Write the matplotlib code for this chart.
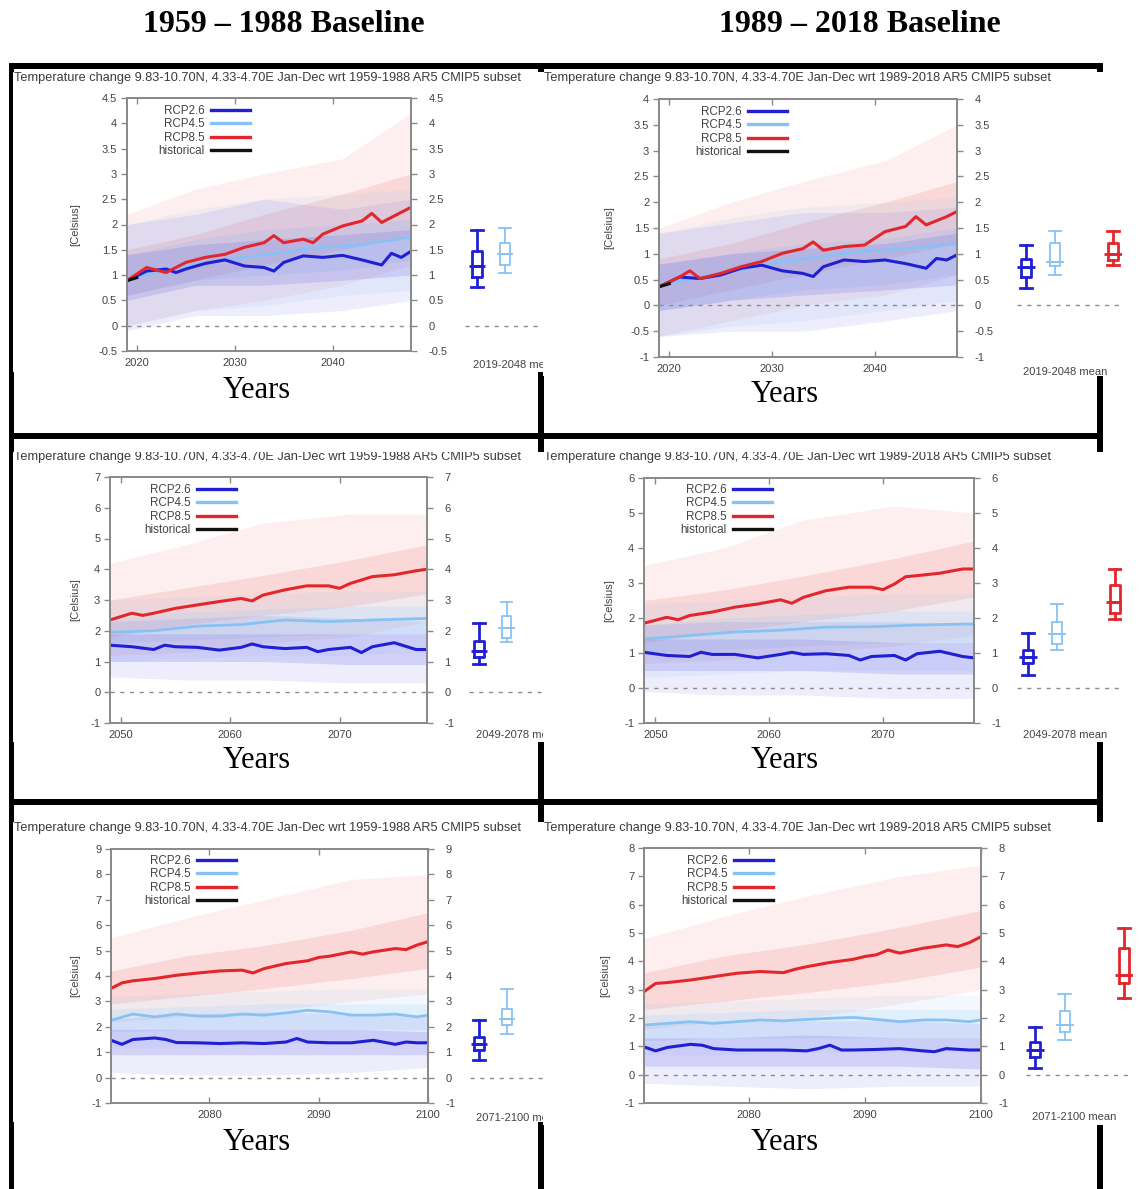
import matplotlib.pyplot as plt
from matplotlib.lines import Line2D
from matplotlib.patches import Rectangle
from matplotlib.ticker import FuncFormatter

plt.rcParams['font.family'] = ['Liberation Sans', 'DejaVu Sans']

W, H = 1139, 1189

scenarios = ['RCP2.6', 'RCP4.5', 'RCP8.5', 'historical']
col_titles = ['1959 \u2013 1988 Baseline', '1989 \u2013 2018 Baseline']
base_periods = ['1959-1988', '1989-2018']
periods = ['2019-2048', '2049-2078', '2071-2100']

# ---------------- data: ensemble means ----------------
# panel 1: 2019-2048 wrt 1959-1988
p1_red_yr = [2019, 2021, 2023, 2025, 2027, 2029, 2031, 2033, 2034, 2035, 2037, 2038, 2039, 2041, 2043, 2044, 2045, 2047, 2048]
p1_red = [0.89, 1.15, 1.05, 1.25, 1.35, 1.41, 1.55, 1.64, 1.78, 1.64, 1.71, 1.64, 1.81, 1.97, 2.07, 2.22, 2.04, 2.24, 2.34]
p1_blue_yr = [2019, 2021, 2023, 2024, 2025, 2027, 2029, 2031, 2033, 2034, 2035, 2037, 2039, 2041, 2043, 2045, 2046, 2047, 2048]
p1_blue = [0.89, 1.08, 1.12, 1.05, 1.12, 1.23, 1.30, 1.18, 1.15, 1.08, 1.25, 1.38, 1.35, 1.39, 1.30, 1.20, 1.43, 1.35, 1.47]
p1_light_yr = [2019, 2023, 2027, 2031, 2035, 2039, 2043, 2048]
p1_light = [0.90, 1.10, 1.25, 1.35, 1.45, 1.55, 1.60, 1.75]
p1_hist_yr = [2019, 2020]
p1_hist = [0.89, 0.95]

# panel 2: 2019-2048 wrt 1989-2018
p2_red_yr = [2019, 2021, 2022, 2023, 2025, 2027, 2029, 2031, 2033, 2034, 2035, 2037, 2039, 2041, 2043, 2044, 2045, 2047, 2048]
p2_red = [0.36, 0.55, 0.67, 0.52, 0.62, 0.75, 0.85, 1.01, 1.10, 1.23, 1.07, 1.14, 1.17, 1.43, 1.53, 1.72, 1.56, 1.72, 1.82]
p2_blue_yr = [2019, 2021, 2023, 2025, 2027, 2029, 2031, 2033, 2034, 2035, 2037, 2039, 2041, 2043, 2045, 2046, 2047, 2048]
p2_blue = [0.36, 0.55, 0.52, 0.59, 0.72, 0.78, 0.67, 0.62, 0.56, 0.75, 0.88, 0.85, 0.88, 0.81, 0.72, 0.91, 0.88, 0.98]
p2_light_yr = [2019, 2023, 2027, 2031, 2035, 2039, 2043, 2048]
p2_light = [0.38, 0.55, 0.70, 0.85, 0.95, 1.05, 1.10, 1.20]
p2_hist_yr = [2019, 2020]
p2_hist = [0.36, 0.42]

# panel 3: 2049-2078 wrt 1959-1988
p3_red_yr = [2049, 2051, 2052, 2053, 2055, 2057, 2059, 2061, 2062, 2063, 2065, 2067, 2069, 2070, 2071, 2073, 2075, 2077, 2078]
p3_red = [2.35, 2.57, 2.50, 2.57, 2.73, 2.84, 2.95, 3.05, 2.97, 3.16, 3.33, 3.46, 3.46, 3.38, 3.54, 3.76, 3.82, 3.95, 4.00]
p3_blue_yr = [2049, 2051, 2053, 2054, 2055, 2057, 2059, 2061, 2062, 2063, 2065, 2067, 2068, 2069, 2071, 2072, 2073, 2075, 2077, 2078]
p3_blue = [1.53, 1.48, 1.39, 1.53, 1.48, 1.46, 1.37, 1.46, 1.57, 1.48, 1.42, 1.46, 1.32, 1.39, 1.46, 1.29, 1.48, 1.61, 1.39, 1.39]
p3_light_yr = [2049, 2053, 2057, 2061, 2065, 2069, 2073, 2078]
p3_light = [1.95, 2.00, 2.15, 2.20, 2.35, 2.30, 2.35, 2.40]

# panel 4: 2049-2078 wrt 1989-2018
p4_red_yr = [2049, 2051, 2052, 2053, 2055, 2057, 2059, 2061, 2062, 2063, 2065, 2067, 2069, 2070, 2071, 2072, 2073, 2075, 2077, 2078]
p4_red = [1.85, 2.02, 1.95, 2.07, 2.17, 2.31, 2.40, 2.52, 2.42, 2.59, 2.78, 2.88, 2.88, 2.81, 2.97, 3.18, 3.21, 3.28, 3.40, 3.40]
p4_blue_yr = [2049, 2051, 2053, 2054, 2055, 2057, 2059, 2061, 2062, 2063, 2065, 2067, 2068, 2069, 2071, 2072, 2073, 2075, 2077, 2078]
p4_blue = [1.02, 0.93, 0.90, 1.02, 0.96, 0.96, 0.86, 0.96, 1.02, 0.96, 0.98, 0.93, 0.80, 0.90, 0.93, 0.80, 0.98, 1.05, 0.90, 0.86]
p4_light_yr = [2049, 2053, 2057, 2061, 2065, 2069, 2073, 2078]
p4_light = [1.40, 1.50, 1.60, 1.65, 1.74, 1.75, 1.80, 1.83]

# panel 5: 2071-2100 wrt 1959-1988
p5_red_yr = [2071, 2072, 2073, 2075, 2077, 2079, 2081, 2083, 2084, 2085, 2087, 2089, 2090, 2091, 2093, 2094, 2095, 2097, 2098, 2099, 2100]
p5_red = [3.51, 3.73, 3.81, 3.90, 4.03, 4.12, 4.20, 4.23, 4.12, 4.29, 4.49, 4.60, 4.73, 4.78, 4.95, 4.86, 4.95, 5.08, 5.04, 5.22, 5.35]
p5_blue_yr = [2071, 2072, 2073, 2075, 2076, 2077, 2079, 2081, 2083, 2085, 2087, 2088, 2089, 2091, 2093, 2095, 2097, 2098, 2099, 2100]
p5_blue = [1.47, 1.31, 1.50, 1.56, 1.50, 1.38, 1.37, 1.34, 1.37, 1.34, 1.40, 1.54, 1.40, 1.37, 1.37, 1.47, 1.31, 1.40, 1.37, 1.37]
p5_light_yr = [2071, 2073, 2075, 2077, 2079, 2081, 2083, 2085, 2087, 2089, 2091, 2093, 2095, 2097, 2099, 2100]
p5_light = [2.26, 2.50, 2.39, 2.50, 2.42, 2.42, 2.50, 2.46, 2.55, 2.65, 2.59, 2.46, 2.46, 2.50, 2.39, 2.46]

# panel 6: 2071-2100 wrt 1989-2018
p6_red_yr = [2071, 2072, 2073, 2075, 2077, 2079, 2081, 2083, 2084, 2085, 2087, 2089, 2090, 2091, 2092, 2093, 2095, 2097, 2098, 2099, 2100]
p6_red = [2.93, 3.22, 3.25, 3.34, 3.46, 3.58, 3.64, 3.60, 3.72, 3.81, 3.96, 4.07, 4.17, 4.23, 4.40, 4.29, 4.46, 4.58, 4.52, 4.66, 4.87]
p6_blue_yr = [2071, 2072, 2073, 2075, 2076, 2077, 2079, 2081, 2083, 2085, 2086, 2087, 2088, 2089, 2091, 2093, 2095, 2096, 2097, 2099, 2100]
p6_blue = [0.98, 0.84, 0.96, 1.07, 1.04, 0.92, 0.87, 0.87, 0.87, 0.84, 0.92, 1.04, 0.87, 0.87, 0.89, 0.92, 0.84, 0.81, 0.92, 0.87, 0.87]
p6_light_yr = [2071, 2073, 2075, 2077, 2079, 2081, 2083, 2085, 2087, 2089, 2091, 2093, 2095, 2097, 2099, 2100]
p6_light = [1.75, 1.81, 1.87, 1.81, 1.87, 1.93, 1.90, 1.95, 1.99, 2.02, 1.95, 1.87, 1.93, 1.93, 1.87, 1.93]

# ---------------- data: ensemble spread (min, lower, upper, max) ----------------
p1_band_yr = [2019, 2026, 2033, 2041, 2048]
p1_red_sp = [[0.0, 0.6, 1.5, 2.2], [0.3, 0.9, 1.8, 2.7], [0.5, 1.2, 2.2, 3.0], [0.8, 1.5, 2.6, 3.3], [1.2, 1.8, 3.0, 4.2]]
p1_light_sp = [[0.0, 0.6, 1.4, 2.0], [0.3, 0.9, 1.7, 2.3], [0.4, 1.0, 1.9, 2.5], [0.6, 1.1, 2.0, 2.6], [0.7, 1.3, 2.1, 2.7]]
p1_blue_sp = [[-0.1, 0.5, 1.4, 2.0], [0.2, 0.8, 1.6, 2.2], [0.2, 0.8, 1.7, 2.5], [0.3, 0.9, 1.8, 2.3], [0.5, 1.0, 1.9, 2.5]]

p2_band_yr = [2019, 2026, 2033, 2041, 2048]
p2_red_sp = [[-0.6, 0.0, 0.9, 1.5], [-0.3, 0.3, 1.2, 2.0], [0.0, 0.6, 1.6, 2.4], [0.2, 0.9, 2.0, 2.8], [0.6, 1.2, 2.4, 3.5]]
p2_light_sp = [[-0.6, -0.1, 0.8, 1.4], [-0.4, 0.1, 1.0, 1.7], [-0.3, 0.3, 1.2, 1.9], [-0.1, 0.4, 1.3, 2.0], [0.1, 0.6, 1.5, 2.1]]
p2_blue_sp = [[-0.6, -0.1, 0.8, 1.4], [-0.5, 0.1, 1.0, 1.6], [-0.5, 0.2, 1.1, 1.8], [-0.3, 0.3, 1.2, 1.8], [-0.1, 0.4, 1.4, 1.9]]

p3_band_yr = [2049, 2056, 2063, 2071, 2078]
p3_red_sp = [[1.2, 1.8, 3.0, 4.2], [1.3, 2.2, 3.4, 4.8], [1.6, 2.5, 3.8, 5.5], [1.8, 2.8, 4.3, 5.8], [2.3, 3.2, 4.8, 5.8]]
p3_light_sp = [[1.0, 1.6, 2.4, 3.0], [1.1, 1.7, 2.6, 3.1], [1.2, 1.8, 2.7, 3.2], [1.2, 1.9, 2.8, 3.3], [1.3, 1.9, 2.8, 3.3]]
p3_blue_sp = [[0.5, 1.0, 1.9, 2.3], [0.4, 1.0, 1.9, 2.4], [0.4, 1.0, 1.9, 2.5], [0.3, 0.9, 1.9, 2.4], [0.3, 0.9, 1.9, 2.3]]

p4_band_yr = [2049, 2056, 2063, 2071, 2078]
p4_red_sp = [[0.7, 1.3, 2.5, 3.5], [0.8, 1.6, 2.8, 4.0], [1.0, 1.9, 3.2, 4.8], [1.2, 2.2, 3.7, 5.2], [1.5, 2.6, 4.2, 5.0]]
p4_light_sp = [[0.3, 1.0, 1.8, 2.4], [0.4, 1.1, 2.0, 2.5], [0.5, 1.2, 2.1, 2.6], [0.5, 1.3, 2.2, 2.7], [0.5, 1.3, 2.2, 2.7]]
p4_blue_sp = [[-0.1, 0.5, 1.4, 1.8], [-0.2, 0.5, 1.4, 1.9], [-0.2, 0.5, 1.4, 1.9], [-0.3, 0.4, 1.3, 1.9], [-0.3, 0.4, 1.3, 1.8]]

p5_band_yr = [2071, 2078, 2085, 2093, 2100]
p5_red_sp = [[2.2, 2.9, 4.2, 5.5], [2.4, 3.2, 4.8, 6.3], [2.6, 3.5, 5.2, 7.0], [3.0, 3.9, 5.8, 7.8], [3.3, 4.3, 6.5, 8.0]]
p5_light_sp = [[1.2, 1.8, 2.7, 3.2], [1.2, 1.9, 2.8, 3.3], [1.3, 1.9, 2.9, 3.4], [1.4, 1.9, 2.9, 3.5], [1.4, 1.9, 2.9, 3.5]]
p5_blue_sp = [[0.2, 0.9, 1.9, 2.3], [0.1, 0.9, 1.9, 2.5], [0.1, 0.9, 1.9, 2.6], [0.2, 0.9, 1.9, 2.5], [0.4, 0.9, 1.8, 2.4]]

p6_band_yr = [2071, 2078, 2085, 2093, 2100]
p6_red_sp = [[1.6, 2.3, 3.6, 4.8], [1.9, 2.6, 4.2, 5.6], [2.0, 2.9, 4.6, 6.3], [2.5, 3.3, 5.2, 7.0], [3.0, 3.8, 5.8, 7.4]]
p6_light_sp = [[0.7, 1.2, 2.1, 2.5], [0.7, 1.3, 2.2, 2.6], [0.8, 1.3, 2.3, 2.7], [0.8, 1.3, 2.3, 2.8], [0.8, 1.3, 2.3, 2.8]]
p6_blue_sp = [[-0.3, 0.3, 1.3, 1.8], [-0.4, 0.3, 1.3, 1.9], [-0.5, 0.3, 1.4, 1.9], [-0.4, 0.3, 1.3, 1.9], [-0.4, 0.2, 1.3, 1.8]]

# ---------------- data: 30-year mean boxes (whislo, q1, med, q3, whishi) ----------------
p1_boxes = {'RCP2.6': [0.77, 0.97, 1.17, 1.47, 1.90], 'RCP4.5': [1.04, 1.20, 1.41, 1.63, 1.93]}
p2_boxes = {'RCP2.6': [0.33, 0.55, 0.74, 0.90, 1.17], 'RCP4.5': [0.59, 0.76, 0.85, 1.20, 1.45],
            'RCP8.5': [0.78, 0.88, 1.00, 1.20, 1.45]}
p3_boxes = {'RCP2.6': [0.91, 1.15, 1.35, 1.66, 2.24], 'RCP4.5': [1.62, 1.78, 2.08, 2.49, 2.95]}
p4_boxes = {'RCP2.6': [0.36, 0.72, 0.89, 1.10, 1.58], 'RCP4.5': [1.08, 1.27, 1.54, 1.89, 2.40],
            'RCP8.5': [1.96, 2.15, 2.47, 2.94, 3.39]}
p5_boxes = {'RCP2.6': [0.68, 1.10, 1.34, 1.60, 2.26], 'RCP4.5': [1.73, 2.06, 2.30, 2.72, 3.48]}
p6_boxes = {'RCP2.6': [0.22, 0.63, 0.87, 1.16, 1.69], 'RCP4.5': [1.22, 1.51, 1.75, 2.26, 2.83],
            'RCP8.5': [2.69, 3.22, 3.52, 4.46, 5.17]}
box_pos = {'RCP2.6': 1, 'RCP4.5': 2, 'RCP8.5': 4}

colors = {'RCP2.6': '#2020d2', 'RCP4.5': '#88c2f4', 'RCP8.5': '#e3262b', 'historical': '#111111'}
band_colors = {'RCP2.6': '#5c5ce6', 'RCP4.5': '#8cc8f8', 'RCP8.5': '#f07474'}

panels = [
    dict(period=0, base=0, red=(p1_red_yr, p1_red), blue=(p1_blue_yr, p1_blue), light=(p1_light_yr, p1_light),
         hist=(p1_hist_yr, p1_hist), band_yr=p1_band_yr, sp={'RCP8.5': p1_red_sp, 'RCP4.5': p1_light_sp, 'RCP2.6': p1_blue_sp},
         boxes=p1_boxes),
    dict(period=0, base=1, red=(p2_red_yr, p2_red), blue=(p2_blue_yr, p2_blue), light=(p2_light_yr, p2_light),
         hist=(p2_hist_yr, p2_hist), band_yr=p2_band_yr, sp={'RCP8.5': p2_red_sp, 'RCP4.5': p2_light_sp, 'RCP2.6': p2_blue_sp},
         boxes=p2_boxes),
    dict(period=1, base=0, red=(p3_red_yr, p3_red), blue=(p3_blue_yr, p3_blue), light=(p3_light_yr, p3_light),
         hist=None, band_yr=p3_band_yr, sp={'RCP8.5': p3_red_sp, 'RCP4.5': p3_light_sp, 'RCP2.6': p3_blue_sp},
         boxes=p3_boxes),
    dict(period=1, base=1, red=(p4_red_yr, p4_red), blue=(p4_blue_yr, p4_blue), light=(p4_light_yr, p4_light),
         hist=None, band_yr=p4_band_yr, sp={'RCP8.5': p4_red_sp, 'RCP4.5': p4_light_sp, 'RCP2.6': p4_blue_sp},
         boxes=p4_boxes),
    dict(period=2, base=0, red=(p5_red_yr, p5_red), blue=(p5_blue_yr, p5_blue), light=(p5_light_yr, p5_light),
         hist=None, band_yr=p5_band_yr, sp={'RCP8.5': p5_red_sp, 'RCP4.5': p5_light_sp, 'RCP2.6': p5_blue_sp},
         boxes=p5_boxes),
    dict(period=2, base=1, red=(p6_red_yr, p6_red), blue=(p6_blue_yr, p6_blue), light=(p6_light_yr, p6_light),
         hist=None, band_yr=p6_band_yr, sp={'RCP8.5': p6_red_sp, 'RCP4.5': p6_light_sp, 'RCP2.6': p6_blue_sp},
         boxes=p6_boxes),
]

# ---------------- layout (pixels) ----------------
layout = [
    dict(ax=(127, 98, 411, 351), ylim=(-0.5, 4.5), ystep=0.5, xlim=(2019, 2048), xticks=[2020, 2030, 2040],
         box=(465, 543), c1=477, d=28, shot=(13, 72, 543, 372), title=(14, 78), plab=(473, 365), ylab=75,
         leg=(158, 105), years=(257, 390)),
    dict(ax=(659, 99, 957, 357), ylim=(-1, 4), ystep=0.5, xlim=(2019, 2048), xticks=[2020, 2030, 2040],
         box=(1017, 1122), c1=1026, d=29, shot=(543, 72, 1122, 376), title=(544, 78), plab=(1023, 372), ylab=609,
         leg=(695, 106), years=(785, 395)),
    dict(ax=(110, 477, 427, 723), ylim=(-1, 7), ystep=1, xlim=(2049, 2078), xticks=[2050, 2060, 2070],
         box=(469, 543), c1=479, d=27.5, shot=(13, 452, 543, 742), title=(14, 457), plab=(476, 735), ylab=75,
         leg=(144, 484), years=(257, 760)),
    dict(ax=(644, 478, 974, 723), ylim=(-1, 6), ystep=1, xlim=(2049, 2078), xticks=[2050, 2060, 2070],
         box=(1017, 1122), c1=1028, d=29, shot=(543, 452, 1122, 742), title=(544, 457), plab=(1023, 735), ylab=609,
         leg=(680, 484), years=(785, 760)),
    dict(ax=(111, 849, 428, 1103), ylim=(-1, 9), ystep=1, xlim=(2071, 2100), xticks=[2080, 2090, 2100],
         box=(470, 543), c1=479, d=28, shot=(13, 822, 543, 1122), title=(14, 828), plab=(476, 1118), ylab=75,
         leg=(144, 855), years=(257, 1142)),
    dict(ax=(644, 848, 981, 1103), ylim=(-1, 8), ystep=1, xlim=(2071, 2100), xticks=[2080, 2090, 2100],
         box=(1026, 1133), c1=1035, d=29.7, shot=(543, 822, 1133, 1125), title=(544, 828), plab=(1032, 1117), ylab=605,
         leg=(681, 855), years=(785, 1142)),
]

text_col = '#444444'
frame_col = '#8a8a8a'
tick_fs = 8
fmt = FuncFormatter(lambda v, _: '%g' % v)


def frac(l, t, r, b):
    return [l / W, 1 - b / H, (r - l) / W, (b - t) / H]


fig = plt.figure(figsize=(W / 100, H / 100), dpi=100)
bg = fig.add_axes([0, 0, 1, 1])
bg.set_xlim(0, W)
bg.set_ylim(H, 0)
bg.axis('off')
bg.set_zorder(0)

# black table borders
for (x, y, w, h) in [(9, 63, 1094, 6), (9, 433, 1094, 6), (9, 799, 1094, 6),
                     (9, 63, 5, H - 63), (538, 63, 6, H - 63), (1097, 63, 6, H - 63)]:
    bg.add_patch(Rectangle((x, y), w, h, color='black', lw=0, zorder=1))

for i, t in enumerate(col_titles):
    bg.text([284, 860][i], 24, t, ha='center', va='center', fontsize=23, fontweight='bold',
            family='Liberation Serif', color='black')


def draw_panel(p, lay):
    l, t, r, b = lay['ax']
    sl, st, sr, sb = lay['shot']
    bg.add_patch(Rectangle((sl, st), sr - sl, sb - st, color='white', lw=0, zorder=2))
    bg.text(*lay['years'], 'Years', ha='center', va='center', fontsize=22, family='Liberation Serif',
            color='black', zorder=3)

    shot = fig.add_axes(frac(sl, st, sr, sb))
    shot.set_xlim(sl, sr)
    shot.set_ylim(sb, st)
    shot.axis('off')
    shot.set_zorder(1)
    title = ('Temperature change 9.83-10.70N, 4.33-4.70E Jan-Dec wrt %s AR5 CMIP5 subset'
             % base_periods[p['base']])
    shot.text(*lay['title'], title, ha='left', va='center', fontsize=9.2, color='#3a3a3a', clip_on=True)
    shot.text(*lay['plab'], periods[p['period']] + ' mean', ha='left', va='center', fontsize=tick_fs,
              color=text_col, clip_on=True)
    shot.text(lay['ylab'], (t + b) / 2, '[Celsius]', rotation=90, ha='center', va='center',
              fontsize=tick_fs, color=text_col)

    ax = fig.add_axes(frac(l, t, r, b))
    ax.set_zorder(2)
    ax.patch.set_alpha(0)
    ylim = lay['ylim']

    # ensemble spread
    yrs = p['band_yr']
    for sc in ['RCP8.5', 'RCP4.5', 'RCP2.6']:
        sp = p['sp'][sc]
        ax.fill_between(yrs, [s[0] for s in sp], [s[3] for s in sp], color=band_colors[sc], alpha=0.11, lw=0)
        ax.fill_between(yrs, [s[1] for s in sp], [s[2] for s in sp], color=band_colors[sc], alpha=0.18, lw=0)

    ax.axhline(0, color='#8c8c8c', lw=1, ls=(0, (3, 4)))
    ax.plot(*p['light'], color=colors['RCP4.5'], lw=2.0)
    ax.plot(*p['blue'], color=colors['RCP2.6'], lw=2.2)
    ax.plot(*p['red'], color=colors['RCP8.5'], lw=2.2)
    if p['hist'] is not None:
        ax.plot(*p['hist'], color=colors['historical'], lw=2.2)

    ax.set_xlim(*lay['xlim'])
    ax.set_ylim(*ylim)
    n = int(round((ylim[1] - ylim[0]) / lay['ystep']))
    yt = [ylim[0] + k * lay['ystep'] for k in range(n + 1)]
    ax.set_yticks(yt)
    ax.yaxis.set_major_formatter(fmt)
    ax.set_xticks(lay['xticks'])
    for s in ax.spines.values():
        s.set_color(frame_col)
        s.set_linewidth(1.3)
    ax.tick_params(axis='x', direction='in', top=True, bottom=True, length=4, width=1, color=frame_col,
                   labelsize=tick_fs, labelcolor=text_col, pad=5)
    ax.tick_params(axis='y', direction='out', left=True, right=False, length=4.5, width=1, color=frame_col,
                   labelsize=tick_fs, labelcolor=text_col, pad=2.5)

    ax2 = ax.twinx()
    ax2.set_ylim(*ylim)
    ax2.set_yticks(yt)
    ax2.yaxis.set_major_formatter(fmt)
    for s in ax2.spines.values():
        s.set_color(frame_col)
        s.set_linewidth(1.3)
    ax2.tick_params(axis='y', direction='out', length=4.5, width=1, color=frame_col,
                    labelsize=tick_fs, labelcolor=text_col, pad=8)

    handles = [Line2D([], [], color=colors[s], lw=2.4) for s in scenarios]
    lx, ly = lay['leg']
    ax.legend(handles, scenarios, loc='upper left',
              bbox_to_anchor=((lx - l) / (r - l), 1 - (ly - t) / (b - t)),
              frameon=False, markerfirst=False, borderpad=0, borderaxespad=0, handlelength=3.3,
              handletextpad=0.6, labelspacing=0.12, fontsize=8.4, labelcolor=text_col)

    # boxes of the 30-year means
    bl, br = lay['box']
    c1, d = lay['c1'], lay['d']
    bx = fig.add_axes(frac(bl, t, br, b))
    bx.set_zorder(2)
    bx.set_xlim(1 + (bl - c1) / d, 1 + (br - c1) / d)
    bx.set_ylim(*ylim)
    bx.axis('off')
    bx.axhline(0, color='#8c8c8c', lw=1, ls=(0, (3, 4)))
    for sc, v in p['boxes'].items():
        c = colors[sc]
        lw = 1.3 if sc == 'RCP4.5' else 2.0
        pos = box_pos[sc]
        st = [dict(whislo=v[0], q1=v[1], med=v[2], q3=v[3], whishi=v[4])]
        props = dict(color=c, lw=lw)
        bx.bxp(st, positions=[pos], widths=0.34, showfliers=False, capwidths=0.42,
               boxprops=props, whiskerprops=props, capprops=props, medianprops=props)
        bx.hlines(v[2], pos - 0.3, pos + 0.3, color=c, lw=lw)


for p, lay in zip(panels, layout):
    draw_panel(p, lay)

fig.savefig('out.png', dpi=100)
